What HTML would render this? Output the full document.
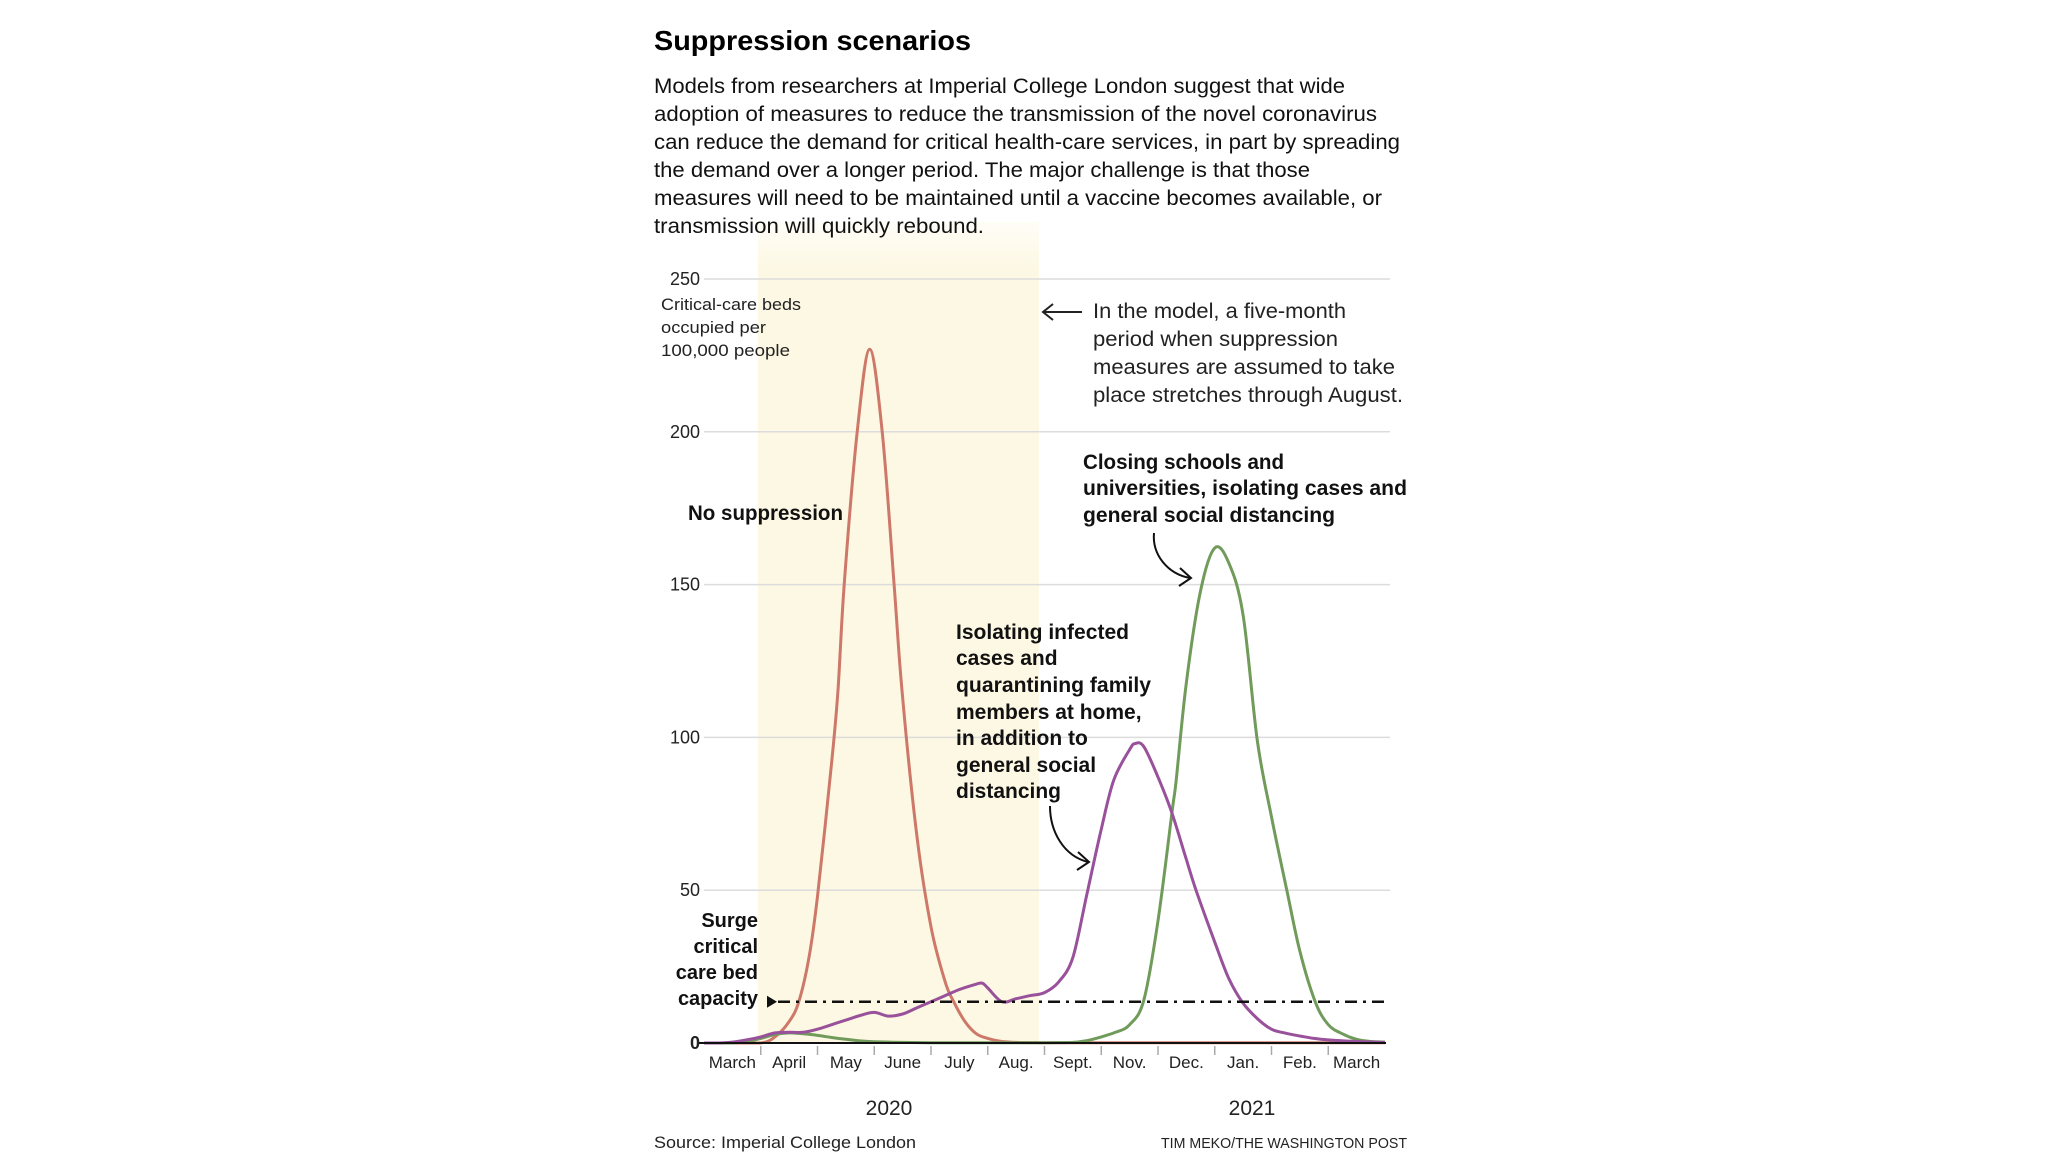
<!DOCTYPE html>
<html><head><meta charset="utf-8"><style>
html,body{margin:0;padding:0;background:#fff;}
svg{display:block;font-family:"Liberation Sans",sans-serif;}
</style></head><body>
<svg id="chart" width="2048" height="1162" viewBox="0 0 2048 1162" xmlns="http://www.w3.org/2000/svg">
<defs><linearGradient id="shadeg" x1="0" y1="0" x2="0" y2="1"><stop offset="0" stop-color="#fdf8e3" stop-opacity="0.3"/><stop offset="0.06" stop-color="#fdf8e3"/><stop offset="1" stop-color="#fdf8e3"/></linearGradient></defs>
<rect x="758" y="222" width="281" height="821" fill="url(#shadeg)"/>
<text x="654" y="50" font-size="28" font-weight="bold" textLength="317" lengthAdjust="spacingAndGlyphs">Suppression scenarios</text>
<g font-size="21" fill="#111">
<text x="654" y="93" textLength="691" lengthAdjust="spacingAndGlyphs">Models from researchers at Imperial College London suggest that wide</text>
<text x="654" y="121" textLength="723" lengthAdjust="spacingAndGlyphs">adoption of measures to reduce the transmission of the novel coronavirus</text>
<text x="654" y="149" textLength="746" lengthAdjust="spacingAndGlyphs">can reduce the demand for critical health-care services, in part by spreading</text>
<text x="654" y="177" textLength="656" lengthAdjust="spacingAndGlyphs">the demand over a longer period. The major challenge is that those</text>
<text x="654" y="205" textLength="728" lengthAdjust="spacingAndGlyphs">measures will need to be maintained until a vaccine becomes available, or</text>
<text x="654" y="233" textLength="330" lengthAdjust="spacingAndGlyphs">transmission will quickly rebound.</text>
</g>
<g id="grid"></g>
<g id="yticks" font-size="18" fill="#222"></g>
<g font-size="17" fill="#222">
<text x="661" y="310" textLength="140" lengthAdjust="spacingAndGlyphs">Critical-care beds</text>
<text x="661" y="333" textLength="105" lengthAdjust="spacingAndGlyphs">occupied per</text>
<text x="661" y="356" textLength="129" lengthAdjust="spacingAndGlyphs">100,000 people</text>
</g>
<g font-size="21" fill="#222">
<text x="1093" y="318" textLength="253" lengthAdjust="spacingAndGlyphs">In the model, a five-month</text>
<text x="1093" y="346" textLength="245" lengthAdjust="spacingAndGlyphs">period when suppression</text>
<text x="1093" y="374" textLength="302" lengthAdjust="spacingAndGlyphs">measures are assumed to take</text>
<text x="1093" y="402" textLength="310" lengthAdjust="spacingAndGlyphs">place stretches through August.</text>
</g>
<g stroke="#222" stroke-width="2" fill="none">
<line x1="1043" y1="312" x2="1082" y2="312"/><polyline points="1053,304 1043,312 1053,320"/>
</g>
<g id="series"></g>
<g id="surge"></g>
<g font-size="21" font-weight="bold" fill="#111">
<text x="688" y="520" textLength="155" lengthAdjust="spacingAndGlyphs">No suppression</text>
<g>
<text x="1083" y="469" textLength="201" lengthAdjust="spacingAndGlyphs">Closing schools and</text>
<text x="1083" y="495" textLength="324" lengthAdjust="spacingAndGlyphs">universities, isolating cases and</text>
<text x="1083" y="522" textLength="252" lengthAdjust="spacingAndGlyphs">general social distancing</text>
</g>
<g>
<text x="956" y="639" textLength="173" lengthAdjust="spacingAndGlyphs">Isolating infected</text>
<text x="956" y="665">cases and</text>
<text x="956" y="692" textLength="195" lengthAdjust="spacingAndGlyphs">quarantining family</text>
<text x="956" y="719">members at home,</text>
<text x="956" y="745">in addition to</text>
<text x="956" y="772">general social</text>
<text x="956" y="798">distancing</text>
</g>
<g text-anchor="end" font-size="20">
<text x="758" y="927">Surge</text><text x="758" y="953">critical</text><text x="758" y="979">care bed</text><text x="758" y="1005">capacity</text>
</g>
</g>
<g stroke="#111" stroke-width="2" fill="none">
<path d="M1154,533 C1152,555 1168,574 1190,578"/><polyline points="1180,568 1191,578 1179,586"/>
<path d="M1050,806 C1050,832 1064,856 1088,862"/><polyline points="1078,852 1089,862 1077,870"/>
</g>
<g id="xaxis" font-size="17" fill="#222"></g>
<text x="889" y="1115" font-size="21" text-anchor="middle" fill="#222">2020</text>
<text x="1252" y="1115" font-size="21" text-anchor="middle" fill="#222">2021</text>
<text x="654" y="1148" font-size="17" fill="#222" textLength="262" lengthAdjust="spacingAndGlyphs">Source: Imperial College London</text>
<text x="1161" y="1148" font-size="15" fill="#222" textLength="246" lengthAdjust="spacingAndGlyphs">TIM MEKO/THE WASHINGTON POST</text>
</svg>
<script>
const monthLabels = ["March","April","May","June","July","Aug.","Sept.","Nov.","Dec.","Jan.","Feb.","March"];
const yTicks = [0,50,100,150,200,250];
const surgeCapacity = 13.5;
const redT = [0,0.5,1.0,1.25,1.5,1.67,1.85,2.0,2.25,2.36,2.47,2.7,2.92,3.14,3.35,3.49,3.75,4.0,4.25,4.4,4.6,4.8,5.0,5.25,5.5,6,7,8,9,10,11,12];
const redV = [0,0,0,2,7,13.5,28,48,92,115,150,200,227,200,150,115,68,38,20,13.5,7,3,1.5,0.5,0.2,0.1,0.1,0.1,0.1,0.1,0.1,0.1];
const purpleT = [0,0.25,0.5,0.75,1.0,1.25,1.5,1.75,2.0,2.25,2.5,2.75,3.0,3.25,3.5,3.75,4.0,4.25,4.5,4.75,4.9,5.0,5.25,5.5,5.75,6.0,6.25,6.5,6.75,7.0,7.22,7.5,7.6,7.75,8.0,8.25,8.5,8.67,9.0,9.25,9.5,9.75,10.0,10.25,10.5,10.75,11.0,11.5,12];
const purpleV = [0,0,0.3,1,2,3.3,3.5,3.5,4.5,6,7.5,9,10,8.8,9.5,11.5,13.5,15.5,17.5,19,19.6,18,13.5,14.5,15.5,16.5,20,28,49,70,86,96,98,97,87,75,60,50,33,21,13,8,4.5,3.2,2.3,1.5,1,0.5,0.2];
const greenT = [0,0.5,0.75,1.0,1.25,1.5,1.75,2.0,2.25,2.5,2.75,3.0,3.5,4,5,6,6.5,6.75,7.0,7.25,7.5,7.75,8.0,8.25,8.32,8.5,8.75,9.0,9.25,9.5,9.75,10.0,10.27,10.5,10.77,11.0,11.25,11.5,11.75,12];
const greenV = [0,0,0.5,1.5,2.8,3.3,3,2.5,1.8,1.2,0.7,0.4,0.2,0.1,0.1,0.1,0.2,0.8,2,3.5,6,14,40,76,86,118,148,162,157,140,99,74,50,30,13.5,6,3,1.2,0.5,0.3];

const NS="http://www.w3.org/2000/svg";
const xs = t => 704 + t*56.75;
const ys = v => 1043 - v*3.056;
function mk(tag, attrs, parent){const e=document.createElementNS(NS,tag);for(const k in attrs)e.setAttribute(k,attrs[k]);parent.appendChild(e);return e;}
const grid=document.getElementById('grid'), yt=document.getElementById('yticks');
yTicks.forEach(v=>{
  if(v>0){const l=mk('line',{x1:704,x2:1390,y1:ys(v),y2:ys(v),stroke:'#dcdcdc','stroke-width':1.5},grid);
  
  }
  const t=mk('text',{x:700,y:ys(v)+6,'text-anchor':'end','font-weight':v===0?'bold':'normal'},yt);
  t.textContent=v;
  
  
});
const series=document.getElementById('series');
function smoothPath(P){
  let d='M'+P[0][0].toFixed(1)+','+P[0][1].toFixed(1);
  for(let i=0;i<P.length-1;i++){
    const p0=P[Math.max(0,i-1)],p1=P[i],p2=P[i+1],p3=P[Math.min(P.length-1,i+2)];
    const c1=[p1[0]+(p2[0]-p0[0])/6,p1[1]+(p2[1]-p0[1])/6];
    const c2=[p2[0]-(p3[0]-p1[0])/6,p2[1]-(p3[1]-p1[1])/6];
    const lo=Math.max(p1[1],p2[1])>1043?1043:null;
    d+='C'+c1[0].toFixed(1)+','+Math.min(c1[1],1043).toFixed(1)+' '+c2[0].toFixed(1)+','+Math.min(c2[1],1043).toFixed(1)+' '+p2[0].toFixed(1)+','+p2[1].toFixed(1);
  }
  return d;
}
function drawLine(T,V,color,name){
  const P=T.map((t,i)=>[xs(t),ys(V[i])]);
  const p=mk('path',{d:smoothPath(P),fill:'none',stroke:color,'stroke-width':3,'stroke-linejoin':'round'},series);
  
  
}
drawLine(redT,redV,'#cd7868','no-suppression-line');
drawLine(greenT,greenV,'#709b5a','schools-line');
drawLine(purpleT,purpleV,'#98519a','isolating-line');
const sg=document.getElementById('surge');
const sl=mk('line',{x1:778,x2:1386,y1:ys(surgeCapacity),y2:ys(surgeCapacity),stroke:'#111','stroke-width':2.5,'stroke-dasharray':'12,6,3,6'},sg);


const tri=mk('polygon',{points:`767,${ys(surgeCapacity)-6} 777,${ys(surgeCapacity)} 767,${ys(surgeCapacity)+6}`,fill:'#111'},sg);


const xa=document.getElementById('xaxis');
const ax=mk('line',{x1:699,x2:1386,y1:1043,y2:1043,stroke:'#111','stroke-width':2},xa);


monthLabels.forEach((m,i)=>{
  if(i>0){const tk=mk('line',{x1:xs(i),x2:xs(i),y1:1046,y2:1055,stroke:'#aaa','stroke-width':1.5},xa);
  
  }
  const t=mk('text',{x:xs(i+0.5),y:1068,'text-anchor':'middle'},xa);
  t.textContent=m;
  
  
});
</script>
</body></html>
